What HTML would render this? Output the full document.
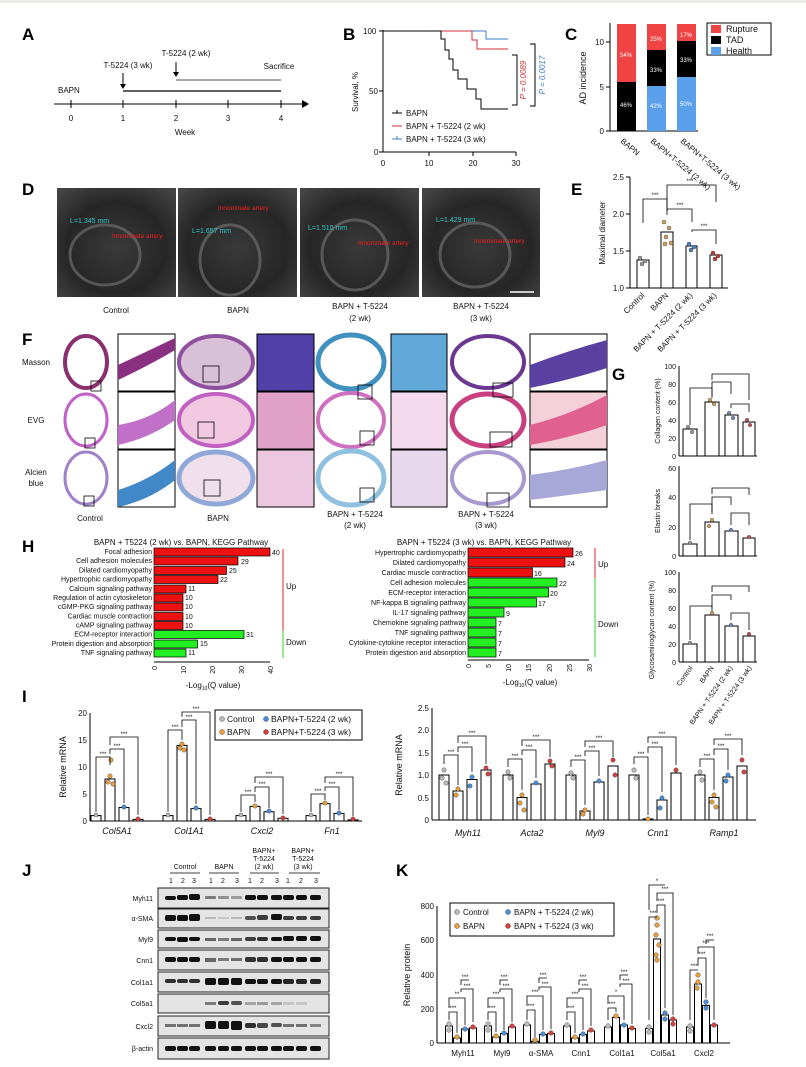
<!DOCTYPE html>
<html><head><meta charset="utf-8"><style>
body{margin:0;background:#fff}
svg{display:block;font-family:"Liberation Sans",Arial,sans-serif}
.t{font-size:8px;fill:#111}
.s{font-size:7px;fill:#111}
.L{font-size:17px;font-weight:bold;fill:#000}
.ax{stroke:#000;stroke-width:1;fill:none}
.bar{fill:#fff;stroke:#000;stroke-width:1}
</style></head><body>
<svg width="806" height="1067" viewBox="0 0 806 1067" xmlns="http://www.w3.org/2000/svg">
<rect width="806" height="1067" fill="#fff"/>
<rect width="806" height="3" fill="#ecece6"/>
<!-- Panel labels -->
<text class="L" x="22" y="40">A</text>
<text class="L" x="343" y="40">B</text>
<text class="L" x="565" y="40">C</text>
<text class="L" x="22" y="195">D</text>
<text class="L" x="571" y="195">E</text>
<text class="L" x="22" y="345">F</text>
<text class="L" x="612" y="380">G</text>
<text class="L" x="22" y="552">H</text>
<text class="L" x="22" y="702">I</text>
<text class="L" x="22" y="876">J</text>
<text class="L" x="396" y="876">K</text>

<!-- A timeline -->
<line class="ax" x1="54" y1="104" x2="302" y2="104"/>
<polygon points="302,100 309,104 302,108" fill="#000"/>
<g class="ax"><line x1="71" y1="100" x2="71" y2="108"/><line x1="123" y1="100" x2="123" y2="108"/><line x1="176" y1="100" x2="176" y2="108"/><line x1="228" y1="100" x2="228" y2="108"/><line x1="281" y1="100" x2="281" y2="108"/></g>
<g class="t" text-anchor="middle"><text x="71" y="121">0</text><text x="123" y="121">1</text><text x="176" y="121">2</text><text x="228" y="121">3</text><text x="281" y="121">4</text><text x="185" y="135">Week</text>
<text x="128" y="68">T-5224 (3 wk)</text><text x="186" y="56">T-5224 (2 wk)</text><text x="279" y="69">Sacrifice</text></g>
<text class="t" x="58" y="93">BAPN</text>
<line x1="123" y1="91" x2="281" y2="91" stroke="#000" stroke-width="1.2"/>
<line x1="176" y1="80" x2="281" y2="80" stroke="#888" stroke-width="1.5"/>
<line x1="123" y1="73" x2="123" y2="86" stroke="#000"/><polygon points="120,84 123,89 126,84"/>
<line x1="176" y1="62" x2="176" y2="74" stroke="#000"/><polygon points="173,72 176,77 179,72"/>

<!-- B survival -->
<line class="ax" x1="383" y1="30" x2="383" y2="152"/><line class="ax" x1="383" y1="152" x2="516" y2="152"/>
<g class="ax"><line x1="379" y1="31" x2="383" y2="31"/><line x1="379" y1="91" x2="383" y2="91"/><line x1="379" y1="152" x2="383" y2="152"/><line x1="429" y1="152" x2="429" y2="156"/><line x1="473" y1="152" x2="473" y2="156"/><line x1="516" y1="152" x2="516" y2="156"/></g>
<g class="t"><text x="363" y="34">100</text><text x="369" y="94">50</text><text x="374" y="155">0</text></g>
<g class="t" text-anchor="middle"><text x="383" y="166">0</text><text x="429" y="166">10</text><text x="473" y="166">20</text><text x="516" y="166">30</text></g>
<text class="t" transform="translate(358,92) rotate(-90)" text-anchor="middle">Survival, %</text>
<polyline fill="none" stroke="#3a7fd0" stroke-width="1" points="383,31 486,31 486,39 508,39"/>
<polyline fill="none" stroke="#d03030" stroke-width="1" points="440,31 472,31 472,40 477,40 477,49 508,49"/>
<polyline fill="none" stroke="#000" stroke-width="1" points="383,31 441,31 441,39 445,39 445,50 449,50 449,59 453,59 453,70 458,70 458,79 467,79 467,89 476,89 476,99 481,99 481,109 508,109"/>
<g stroke="#000"><line x1="392" y1="113" x2="402" y2="113"/><line x1="397" y1="110" x2="397" y2="113"/></g>
<g stroke="#d03030"><line x1="392" y1="126" x2="402" y2="126"/></g>
<g stroke="#3a7fd0"><line x1="392" y1="139" x2="402" y2="139"/><line x1="397" y1="136" x2="397" y2="139"/></g>
<g class="t"><text x="406" y="116">BAPN</text><text x="406" y="129">BAPN + T-5224 (2 wk)</text><text x="406" y="142">BAPN + T-5224 (3 wk)</text></g>
<polyline fill="none" stroke="#000" points="512,55 517,55 517,105 512,105"/>
<polyline fill="none" stroke="#000" points="530,44 535,44 535,106 530,106"/>
<text transform="translate(526,80) rotate(-90)" text-anchor="middle" style="font-size:8px;fill:#d03030;font-style:italic">P = 0.0089</text>
<text transform="translate(545,75) rotate(-90)" text-anchor="middle" style="font-size:8px;fill:#3a7fd0;font-style:italic">P = 0.0017</text>

<!-- C -->
<line class="ax" x1="610" y1="23" x2="610" y2="131"/><line class="ax" x1="606" y1="131" x2="698" y2="131"/>
<g class="ax"><line x1="606" y1="42" x2="610" y2="42"/><line x1="606" y1="87" x2="610" y2="87"/></g>
<g class="t" text-anchor="end"><text x="604" y="45">10</text><text x="604" y="90">5</text><text x="604" y="134">0</text></g>
<text class="t" transform="translate(586,78) rotate(-90)" text-anchor="middle" style="font-size:9px">AD incidence</text>
<rect x="617" y="24" width="19" height="58" fill="#f04444"/><rect x="617" y="82" width="19" height="49" fill="#000"/>
<rect x="647" y="24" width="19" height="26" fill="#f04444"/><rect x="647" y="50" width="19" height="36" fill="#000"/><rect x="647" y="86" width="19" height="45" fill="#5aa0ea"/>
<rect x="677" y="24" width="19" height="17" fill="#f04444"/><rect x="677" y="41" width="19" height="36" fill="#000"/><rect x="677" y="77" width="19" height="54" fill="#5aa0ea"/>
<g style="font-size:6px;fill:#fff" text-anchor="middle"><text x="626" y="57">54%</text><text x="626" y="107">46%</text><text x="656" y="41">25%</text><text x="656" y="72">33%</text><text x="656" y="108">42%</text><text x="686" y="37">17%</text><text x="686" y="62">33%</text><text x="686" y="106">50%</text></g>
<rect x="707" y="23" width="64" height="32" fill="#fff" stroke="#000"/>
<rect x="711" y="25" width="10" height="8" fill="#f04444"/><rect x="711" y="36" width="10" height="8" fill="#000"/><rect x="711" y="47" width="10" height="8" fill="#5aa0ea"/>
<g class="t" style="font-size:9px"><text x="726" y="32">Rupture</text><text x="726" y="43">TAD</text><text x="726" y="54">Health</text></g>
<g class="t"><text transform="translate(620,142) rotate(40)">BAPN</text><text transform="translate(650,142) rotate(40)">BAPN+T-5224 (2 wk)</text><text transform="translate(680,142) rotate(40)">BAPN+T-5224 (3 wk)</text></g>

<!-- D ultrasound -->
<defs>
<radialGradient id="us" cx="50%" cy="55%" r="70%"><stop offset="0" stop-color="#3a3a3a"/><stop offset="0.6" stop-color="#262626"/><stop offset="1" stop-color="#444"/></radialGradient>
</defs>
<g>
<rect x="57" y="188" width="119" height="109" fill="url(#us)"/>
<rect x="178" y="188" width="119" height="109" fill="url(#us)"/>
<rect x="300" y="188" width="119" height="109" fill="url(#us)"/>
<rect x="422" y="188" width="118" height="109" fill="url(#us)"/>
<g fill="none" stroke="#777" stroke-width="3" opacity="0.6">
<ellipse cx="105" cy="255" rx="35" ry="30"/><ellipse cx="230" cy="260" rx="30" ry="35"/><ellipse cx="355" cy="255" rx="33" ry="35"/><ellipse cx="475" cy="255" rx="35" ry="32"/></g>
<g style="font-size:7px;fill:#30c8c8"><text x="70" y="223">L=1.345 mm</text><text x="192" y="233">L=1.657 mm</text><text x="308" y="230">L=1.510 mm</text><text x="436" y="222">L=1.429 mm</text></g>
<g style="font-size:6.5px;fill:#f02020"><text x="112" y="238">Innominate artery</text><text x="218" y="210">Innominate artery</text><text x="358" y="245">Innominate artery</text><text x="474" y="243">Innominate artery</text></g>
<line x1="510" y1="292" x2="534" y2="292" stroke="#fff" stroke-width="1.5"/>
</g>
<g class="t" text-anchor="middle"><text x="116" y="313">Control</text><text x="238" y="313">BAPN</text><text x="360" y="309">BAPN + T-5224</text><text x="360" y="321">(2 wk)</text><text x="481" y="309">BAPN + T-5224</text><text x="481" y="321">(3 wk)</text></g>

<!-- E -->
<line class="ax" x1="630" y1="177" x2="630" y2="288"/><line class="ax" x1="630" y1="288" x2="728" y2="288"/>
<g class="ax"><line x1="626" y1="177" x2="630" y2="177"/><line x1="626" y1="214" x2="630" y2="214"/><line x1="626" y1="251" x2="630" y2="251"/><line x1="626" y1="288" x2="630" y2="288"/></g>
<g class="t" text-anchor="end"><text x="624" y="180">2.5</text><text x="624" y="217">2.0</text><text x="624" y="254">1.5</text><text x="624" y="291">1.0</text></g>
<text class="t" transform="translate(605,233) rotate(-90)" text-anchor="middle">Maximal diameter</text>
<rect class="bar" x="637" y="260" width="12" height="28"/><rect class="bar" x="661" y="232" width="12" height="56"/><rect class="bar" x="686" y="246" width="11" height="42"/><rect class="bar" x="710" y="255" width="12" height="33"/>
<g fill="#999" stroke="#333" stroke-width=".4"><circle cx="640" cy="258" r="2"/><circle cx="645" cy="261" r="2"/><circle cx="642" cy="264" r="2"/></g>
<g fill="#d8a060" stroke="#333" stroke-width=".4"><circle cx="664" cy="222" r="2"/><circle cx="669" cy="228" r="2"/><circle cx="666" cy="237" r="2"/><circle cx="671" cy="243" r="2"/><circle cx="665" cy="244" r="2"/></g>
<g fill="#4a80c8" stroke="#333" stroke-width=".4"><circle cx="689" cy="244" r="2"/><circle cx="694" cy="247" r="2"/><circle cx="691" cy="250" r="2"/></g>
<g fill="#c04040" stroke="#333" stroke-width=".4"><circle cx="713" cy="253" r="2"/><circle cx="718" cy="256" r="2"/><circle cx="715" cy="259" r="2"/></g>
<g fill="none" stroke="#000" stroke-width=".8"><polyline points="643,223 643,199 667,199 667,211"/><polyline points="667,211 667,185 716,185 716,202"/><polyline points="667,215 667,209 692,209 692,222"/><polyline points="692,232 692,230 716,230 716,244"/></g>
<g class="s" text-anchor="middle" style="font-size:6px"><text x="655" y="197">***</text><text x="690" y="183">***</text><text x="680" y="207">***</text><text x="704" y="228">***</text></g>
<g class="t" text-anchor="end"><text transform="translate(645,296) rotate(-45)">Control</text><text transform="translate(669,296) rotate(-45)">BAPN</text><text transform="translate(693,296) rotate(-45)">BAPN + T-5224 (2 wk)</text><text transform="translate(717,296) rotate(-45)">BAPN + T-5224 (3 wk)</text></g>

<!-- F histology -->
<g>
<!-- row1 Masson -->
<ellipse cx="86" cy="362" rx="21" ry="26" fill="#fff" stroke="#8a3070" stroke-width="4"/>
<rect x="118" y="334" width="57" height="57" fill="#fff" stroke="#000"/><path d="M118,365 Q150,350 175,338 L175,350 Q150,365 118,380Z" fill="#8a3080"/>
<ellipse cx="216" cy="362" rx="37" ry="26" fill="#d8c0d8" stroke="#9050a0" stroke-width="4"/>
<rect x="257" y="334" width="57" height="57" fill="#5040a8" stroke="#000"/>
<ellipse cx="351" cy="362" rx="33" ry="27" fill="#fff" stroke="#4090c0" stroke-width="5"/>
<rect x="391" y="334" width="56" height="57" fill="#60a8d8" stroke="#000"/>
<ellipse cx="488" cy="362" rx="36" ry="26" fill="#fff" stroke="#6a3890" stroke-width="4"/>
<rect x="530" y="334" width="77" height="57" fill="#fff" stroke="#000"/><path d="M530,365 Q570,350 607,340 L607,368 Q570,380 530,388Z" fill="#5a40a0"/>
<!-- row2 EVG -->
<ellipse cx="86" cy="420" rx="21" ry="26" fill="#fff" stroke="#c060c8" stroke-width="3"/>
<rect x="118" y="392" width="57" height="57" fill="#fff" stroke="#000"/><path d="M118,425 Q150,420 175,400 L175,420 Q150,438 118,445Z" fill="#c070c8"/>
<ellipse cx="216" cy="420" rx="37" ry="26" fill="#f0c8e0" stroke="#c060c0" stroke-width="4"/>
<rect x="257" y="392" width="57" height="57" fill="#e0a0c8" stroke="#000"/>
<ellipse cx="351" cy="420" rx="33" ry="27" fill="#fff" stroke="#d070c0" stroke-width="4"/>
<rect x="391" y="392" width="56" height="57" fill="#f4d8ec" stroke="#000"/>
<ellipse cx="488" cy="420" rx="36" ry="26" fill="#fff" stroke="#c84080" stroke-width="5"/>
<rect x="530" y="392" width="77" height="57" fill="#f4d0d8" stroke="#000"/><path d="M530,425 Q570,415 607,395 L607,425 Q570,438 530,445Z" fill="#e06090"/>
<!-- row3 Alcian -->
<ellipse cx="86" cy="478" rx="21" ry="26" fill="#fff" stroke="#a080c8" stroke-width="3"/>
<rect x="118" y="450" width="57" height="57" fill="#fff" stroke="#000"/><path d="M118,490 Q150,480 175,460 L175,480 Q150,500 118,507Z" fill="#4088c8"/>
<ellipse cx="216" cy="478" rx="37" ry="26" fill="#f0e0ec" stroke="#90a8d8" stroke-width="5"/>
<rect x="257" y="450" width="57" height="57" fill="#ecc8e0" stroke="#000"/>
<ellipse cx="351" cy="478" rx="33" ry="27" fill="#fff" stroke="#90c0e0" stroke-width="5"/>
<rect x="391" y="450" width="56" height="57" fill="#e8d8ec" stroke="#000"/>
<ellipse cx="488" cy="478" rx="36" ry="26" fill="#fff" stroke="#a898d0" stroke-width="4"/>
<rect x="530" y="450" width="77" height="57" fill="#fff" stroke="#000"/><path d="M530,475 Q570,470 607,460 L607,490 Q570,495 530,500Z" fill="#a8a8d8"/>
<g fill="none" stroke="#000" stroke-width=".8">
<rect x="91" y="381" width="10" height="10"/><rect x="203" y="366" width="16" height="16"/><rect x="358" y="385" width="14" height="14"/><rect x="493" y="383" width="20" height="14"/>
<rect x="85" y="438" width="10" height="10"/><rect x="198" y="422" width="16" height="16"/><rect x="360" y="431" width="14" height="14"/><rect x="490" y="432" width="22" height="15"/>
<rect x="84" y="496" width="10" height="10"/><rect x="204" y="480" width="16" height="16"/><rect x="360" y="488" width="14" height="14"/><rect x="487" y="493" width="22" height="14"/></g>
</g>
<g class="t" text-anchor="middle"><text x="36" y="365">Masson</text><text x="36" y="423">EVG</text><text x="36" y="475">Alcien</text><text x="36" y="486">blue</text>
<text x="90" y="521">Control</text><text x="218" y="521">BAPN</text><text x="355" y="517">BAPN + T-5224</text><text x="355" y="528">(2 wk)</text><text x="486" y="517">BAPN + T-5224</text><text x="486" y="528">(3 wk)</text></g>

<!-- G collagen -->
<line class="ax" x1="679" y1="366" x2="679" y2="456"/><line class="ax" x1="679" y1="456" x2="757" y2="456"/>
<g class="t" text-anchor="end" style="font-size:7px"><text x="676" y="369">100</text><text x="676" y="387">80</text><text x="676" y="405">60</text><text x="676" y="423">40</text><text x="676" y="441">20</text><text x="676" y="459">0</text></g>
<text class="s" transform="translate(660,411) rotate(-90)" text-anchor="middle">Collagen content (%)</text>
<rect class="bar" x="683" y="429" width="14" height="27"/><rect class="bar" x="705" y="402" width="14" height="54"/><rect class="bar" x="725" y="415" width="13" height="41"/><rect class="bar" x="743" y="422" width="12" height="34"/>
<!-- elastin -->
<line class="ax" x1="679" y1="466" x2="679" y2="556"/><line class="ax" x1="679" y1="556" x2="757" y2="556"/>
<g class="t" text-anchor="end" style="font-size:7px"><text x="676" y="471">60</text><text x="676" y="500">40</text><text x="676" y="530">20</text><text x="676" y="559">0</text></g>
<text class="s" transform="translate(660,511) rotate(-90)" text-anchor="middle">Elastin breaks</text>
<rect class="bar" x="683" y="544" width="14" height="12"/><rect class="bar" x="705" y="522" width="14" height="34"/><rect class="bar" x="725" y="531" width="13" height="25"/><rect class="bar" x="743" y="538" width="12" height="18"/>
<!-- GAG -->
<line class="ax" x1="679" y1="572" x2="679" y2="662"/><line class="ax" x1="679" y1="662" x2="757" y2="662"/>
<g class="t" text-anchor="end" style="font-size:7px"><text x="676" y="575">100</text><text x="676" y="593">80</text><text x="676" y="611">60</text><text x="676" y="629">40</text><text x="676" y="647">20</text><text x="676" y="665">0</text></g>
<text class="s" transform="translate(654,630) rotate(-90)" text-anchor="middle">Glycosaminoglycan content (%)</text>
<rect class="bar" x="683" y="644" width="14" height="18"/><rect class="bar" x="705" y="615" width="14" height="47"/><rect class="bar" x="725" y="626" width="13" height="36"/><rect class="bar" x="743" y="636" width="12" height="26"/>
<g fill="none" stroke="#000" stroke-width=".8">
<polyline points="690,425 690,388 712,388 712,398"/><polyline points="712,396 712,382 731,382 731,394"/><polyline points="712,380 712,374 749,374 749,400"/><polyline points="731,408 731,404 749,404 749,412"/>
<polyline points="690,540 690,504 712,504 712,514"/><polyline points="712,512 712,497 731,497 731,505"/><polyline points="712,494 712,488 749,488 749,495"/><polyline points="731,525 731,513 749,513 749,525"/>
<polyline points="690,640 690,606 712,606 712,612"/><polyline points="712,608 712,595 731,595 731,600"/><polyline points="712,592 712,586 749,586 749,592"/><polyline points="731,620 731,613 749,613 749,630"/></g>
<g fill="#d8a060" stroke="#333" stroke-width=".4"><circle cx="710" cy="400" r="1.8"/><circle cx="714" cy="404" r="1.8"/><circle cx="712" cy="520" r="1.8"/><circle cx="709" cy="526" r="1.8"/><circle cx="712" cy="613" r="1.8"/></g>
<g fill="#6a90c0" stroke="#333" stroke-width=".4"><circle cx="729" cy="413" r="1.8"/><circle cx="733" cy="418" r="1.8"/><circle cx="731" cy="530" r="1.8"/><circle cx="731" cy="625" r="1.8"/></g>
<g fill="#c05050" stroke="#333" stroke-width=".4"><circle cx="747" cy="420" r="1.8"/><circle cx="750" cy="425" r="1.8"/><circle cx="749" cy="537" r="1.8"/><circle cx="749" cy="634" r="1.8"/></g>
<g fill="#999" stroke="#333" stroke-width=".4"><circle cx="688" cy="427" r="1.8"/><circle cx="692" cy="432" r="1.8"/><circle cx="690" cy="543" r="1.8"/><circle cx="690" cy="643" r="1.8"/></g>
<g class="s" text-anchor="end"><text transform="translate(693,668) rotate(-55)">Control</text><text transform="translate(714,668) rotate(-55)">BAPN</text><text transform="translate(733,668) rotate(-55)">BAPN + T-5224 (2 wk)</text><text transform="translate(752,668) rotate(-55)">BAPN + T-5224 (3 wk)</text></g>

<!-- H left -->
<text class="t" x="181" y="545" text-anchor="middle">BAPN + T5224 (2 wk) vs. BAPN, KEGG Pathway</text>
<g stroke="#000" stroke-width=".7">
<rect x="154" y="548" width="116" height="8" fill="#ee1111"/><rect x="154" y="557" width="84" height="8" fill="#ee1111"/><rect x="154" y="566.5" width="72.5" height="8" fill="#ee1111"/><rect x="154" y="575.5" width="64" height="8" fill="#ee1111"/><rect x="154" y="585" width="32" height="8" fill="#ee1111"/><rect x="154" y="594" width="29" height="8" fill="#ee1111"/><rect x="154" y="603" width="29" height="8" fill="#ee1111"/><rect x="154" y="612.5" width="29" height="8" fill="#ee1111"/><rect x="154" y="621.5" width="29" height="8" fill="#ee1111"/>
<rect x="154" y="630.5" width="90" height="8" fill="#22ee22"/><rect x="154" y="640" width="43.5" height="8" fill="#22ee22"/><rect x="154" y="649" width="32" height="8" fill="#22ee22"/></g>
<g class="s" text-anchor="end"><text x="152" y="554">Focal adhesion</text><text x="152" y="563">Cell adhesion molecules</text><text x="152" y="572.5">Dilated cardiomyopathy</text><text x="152" y="581.5">Hypertrophic cardiomyopathy</text><text x="152" y="591">Calcium signaling pathway</text><text x="152" y="600">Regulation of actin cytoskeleton</text><text x="152" y="609">cGMP-PKG signaling pathway</text><text x="152" y="618.5">Cardiac muscle contraction</text><text x="152" y="627.5">cAMP signaling pathway</text><text x="152" y="636.5">ECM-receptor interaction</text><text x="152" y="646">Protein digestion and absorption</text><text x="152" y="655">TNF signaling pathway</text></g>
<g class="s"><text x="272" y="555">40</text><text x="241" y="564">29</text><text x="229" y="573">25</text><text x="220" y="582">22</text><text x="188" y="591">11</text><text x="185" y="600">10</text><text x="185" y="609">10</text><text x="185" y="619">10</text><text x="185" y="628">10</text><text x="246" y="637">31</text><text x="200" y="646">15</text><text x="188" y="655">11</text></g>
<line x1="283" y1="549" x2="283" y2="631" stroke="#e02020"/><line x1="283" y1="631" x2="283" y2="658" stroke="#30d030"/>
<g class="t"><text x="286" y="589">Up</text><text x="286" y="645">Down</text></g>
<line class="ax" x1="154" y1="662" x2="270" y2="662"/>
<g class="s" text-anchor="end"><text transform="translate(157,666) rotate(-90)">0</text><text transform="translate(186,666) rotate(-90)">10</text><text transform="translate(215,666) rotate(-90)">20</text><text transform="translate(244,666) rotate(-90)">30</text><text transform="translate(273,666) rotate(-90)">40</text></g>
<text class="t" x="213" y="688" text-anchor="middle">-Log<tspan style="font-size:5px" dy="2">10</tspan><tspan dy="-2">(Q value)</tspan></text>
<!-- H right -->
<text class="t" x="484" y="545" text-anchor="middle">BAPN + T5224 (3 wk) vs. BAPN, KEGG Pathway</text>
<g stroke="#000" stroke-width=".7">
<rect x="468" y="548" width="105" height="9" fill="#ee1111"/><rect x="468" y="558" width="97" height="9" fill="#ee1111"/><rect x="468" y="568" width="64.5" height="9" fill="#ee1111"/>
<rect x="468" y="578" width="89" height="9" fill="#22ee22"/><rect x="468" y="588" width="80.6" height="9" fill="#22ee22"/><rect x="468" y="598" width="68.5" height="9" fill="#22ee22"/><rect x="468" y="608" width="36" height="9" fill="#22ee22"/><rect x="468" y="618" width="28" height="9" fill="#22ee22"/><rect x="468" y="628" width="28" height="9" fill="#22ee22"/><rect x="468" y="638" width="28" height="9" fill="#22ee22"/><rect x="468" y="648" width="28" height="9" fill="#22ee22"/></g>
<g class="s" text-anchor="end"><text x="466" y="555">Hypertrophic cardiomyopathy</text><text x="466" y="565">Dilated cardiomyopathy</text><text x="466" y="575">Cardiac muscle contraction</text><text x="466" y="585">Cell adhesion molecules</text><text x="466" y="595">ECM-receptor interaction</text><text x="466" y="605">NF-kappa B signaling pathway</text><text x="466" y="615">IL-17 signaling pathway</text><text x="466" y="625">Chemokine signaling pathway</text><text x="466" y="635">TNF signaling pathway</text><text x="466" y="645">Cytokine-cytokine receptor interaction</text><text x="466" y="655">Protein digestion and absorption</text></g>
<g class="s"><text x="575" y="556">26</text><text x="567" y="566">24</text><text x="534" y="576">16</text><text x="559" y="586">22</text><text x="550" y="596">20</text><text x="538" y="606">17</text><text x="506" y="616">9</text><text x="498" y="626">7</text><text x="498" y="636">7</text><text x="498" y="646">7</text><text x="498" y="656">7</text></g>
<line x1="595" y1="548" x2="595" y2="578" stroke="#e02020"/><line x1="595" y1="578" x2="595" y2="657" stroke="#30d030"/>
<g class="t"><text x="598" y="567">Up</text><text x="598" y="627">Down</text></g>
<line class="ax" x1="468" y1="660" x2="589" y2="660"/>
<g class="s" text-anchor="end"><text transform="translate(471,664) rotate(-90)">0</text><text transform="translate(491,664) rotate(-90)">5</text><text transform="translate(511,664) rotate(-90)">10</text><text transform="translate(531,664) rotate(-90)">15</text><text transform="translate(552,664) rotate(-90)">20</text><text transform="translate(572,664) rotate(-90)">25</text><text transform="translate(592,664) rotate(-90)">30</text></g>
<text class="t" x="530" y="685" text-anchor="middle">-Log<tspan style="font-size:5px" dy="2">10</tspan><tspan dy="-2">(Q value)</tspan></text>

<!-- I left -->
<line class="ax" x1="90" y1="713" x2="90" y2="821"/><line class="ax" x1="90" y1="821" x2="362" y2="821"/>
<g class="t" text-anchor="end"><text x="87" y="716">20</text><text x="87" y="743">15</text><text x="87" y="770">10</text><text x="87" y="797">5</text><text x="87" y="824">0</text></g>
<text class="t" transform="translate(66,767) rotate(-90)" text-anchor="middle" style="font-size:9px">Relative mRNA</text>
<g class="bar">
<rect x="91" y="815.6" width="10" height="5.4"/><rect x="105" y="779" width="10" height="42"/><rect x="119" y="807.5" width="10" height="13.5"/><rect x="133" y="819.4" width="10" height="1.6"/>
<rect x="163" y="815.6" width="10" height="5.4"/><rect x="177" y="745.4" width="10" height="75.6"/><rect x="191" y="808.6" width="10" height="12.4"/><rect x="205" y="819.4" width="10" height="1.6"/>
<rect x="236" y="815.6" width="10" height="5.4"/><rect x="250" y="806.4" width="10" height="14.6"/><rect x="264" y="811.8" width="10" height="9.2"/><rect x="278" y="818.3" width="10" height="2.7"/>
<rect x="306" y="815.6" width="10" height="5.4"/><rect x="320" y="803.7" width="10" height="17.3"/><rect x="334" y="813.4" width="10" height="7.6"/><rect x="348" y="819.9" width="10" height="1.1"/></g>
<g stroke="#333" stroke-width=".4">
<g fill="#bbb"><circle cx="96" cy="815" r="2"/><circle cx="168" cy="815" r="2"/><circle cx="241" cy="815" r="2"/><circle cx="311" cy="815" r="2"/></g>
<g fill="#e8a040"><circle cx="110" cy="776" r="2.2"/><circle cx="108" cy="782" r="2.2"/><circle cx="113" cy="784" r="2.2"/><circle cx="111" cy="760" r="2.2"/><circle cx="182" cy="744" r="2.2"/><circle cx="180" cy="748" r="2.2"/><circle cx="184" cy="750" r="2.2"/><circle cx="255" cy="806" r="2.2"/><circle cx="325" cy="803" r="2.2"/></g>
<g fill="#4a8ed8"><circle cx="124" cy="807" r="2.2"/><circle cx="196" cy="808" r="2.2"/><circle cx="269" cy="811" r="2.2"/><circle cx="339" cy="813" r="2.2"/></g>
<g fill="#d84040"><circle cx="138" cy="819" r="2.2"/><circle cx="210" cy="819" r="2.2"/><circle cx="283" cy="818" r="2.2"/><circle cx="353" cy="819" r="2.2"/></g></g>
<g fill="none" stroke="#000" stroke-width=".8">
<polyline points="96,812 96,757 110,757 110,765"/><polyline points="110,754 110,749 124,749 124,803"/><polyline points="110,745 110,737 138,737 138,815"/>
<polyline points="168,812 168,730 182,730 182,740"/><polyline points="182,727 182,720 196,720 196,804"/><polyline points="182,717 182,712 210,712 210,815"/>
<polyline points="241,812 241,795 255,795 255,802"/><polyline points="255,792 255,787 269,787 269,808"/><polyline points="255,783 255,777 283,777 283,814"/>
<polyline points="311,812 311,794 325,794 325,800"/><polyline points="325,791 325,787 339,787 339,810"/><polyline points="325,783 325,777 353,777 353,816"/></g>
<g class="s" text-anchor="middle" style="font-size:6px"><text x="103" y="756">***</text><text x="117" y="748">***</text><text x="124" y="736">***</text><text x="175" y="729">***</text><text x="189" y="719">***</text><text x="196" y="711">***</text><text x="248" y="794">***</text><text x="262" y="786">***</text><text x="269" y="776">***</text><text x="318" y="793">***</text><text x="332" y="786">***</text><text x="339" y="776">***</text></g>
<g class="t" text-anchor="middle" style="font-style:italic;font-size:9px"><text x="117" y="834">Col5A1</text><text x="189" y="834">Col1A1</text><text x="262" y="834">Cxcl2</text><text x="332" y="834">Fn1</text></g>
<rect x="215" y="710" width="147" height="30" fill="#fff" stroke="#000"/>
<g stroke="#333" stroke-width=".4"><circle cx="222" cy="719" r="2.5" fill="#bbb"/><circle cx="222" cy="732" r="2.5" fill="#e8a040"/><circle cx="266" cy="719" r="2.5" fill="#4a8ed8"/><circle cx="266" cy="732" r="2.5" fill="#d84040"/></g>
<g class="t" style="font-size:8.5px"><text x="227" y="722">Control</text><text x="227" y="735">BAPN</text><text x="271" y="722">BAPN+T-5224 (2 wk)</text><text x="271" y="735">BAPN+T-5224 (3 wk)</text></g>

<!-- I right -->
<line class="ax" x1="432" y1="708" x2="432" y2="820"/><line class="ax" x1="432" y1="820" x2="756" y2="820"/>
<g class="t" text-anchor="end"><text x="429" y="711">2.5</text><text x="429" y="733">2.0</text><text x="429" y="756">1.5</text><text x="429" y="778">1.0</text><text x="429" y="801">0.5</text><text x="429" y="823">0</text></g>
<text class="t" transform="translate(402,765) rotate(-90)" text-anchor="middle" style="font-size:9px">Relative mRNA</text>
<g class="bar">
<rect x="439" y="775" width="10" height="45"/><rect x="453" y="791" width="10" height="29"/><rect x="467" y="779.5" width="10" height="40.5"/><rect x="481" y="770" width="10" height="50"/>
<rect x="503" y="775" width="10" height="45"/><rect x="517" y="797.5" width="10" height="22.5"/><rect x="531" y="784" width="10" height="36"/><rect x="545" y="764" width="10" height="56"/>
<rect x="566" y="775" width="10" height="45"/><rect x="580" y="811" width="10" height="9"/><rect x="594" y="782" width="10" height="38"/><rect x="608" y="766" width="10" height="54"/>
<rect x="629" y="775" width="10" height="45"/><rect x="643" y="819" width="10" height="1"/><rect x="657" y="800" width="10" height="20"/><rect x="671" y="773" width="10" height="47"/>
<rect x="695" y="775" width="10" height="45"/><rect x="709" y="797.5" width="10" height="22.5"/><rect x="723" y="777" width="10" height="43"/><rect x="737" y="766" width="10" height="54"/></g>
<g stroke="#333" stroke-width=".4">
<g fill="#bbb"><circle cx="444" cy="770" r="2.2"/><circle cx="442" cy="778" r="2.2"/><circle cx="446" cy="783" r="2.2"/><circle cx="508" cy="772" r="2.2"/><circle cx="510" cy="778" r="2.2"/><circle cx="571" cy="773" r="2.2"/><circle cx="573" cy="778" r="2.2"/><circle cx="634" cy="770" r="2.2"/><circle cx="636" cy="778" r="2.2"/><circle cx="700" cy="772" r="2.2"/><circle cx="702" cy="780" r="2.2"/></g>
<g fill="#e8a040"><circle cx="458" cy="789" r="2.2"/><circle cx="456" cy="795" r="2.2"/><circle cx="522" cy="795" r="2.2"/><circle cx="520" cy="803" r="2.2"/><circle cx="524" cy="810" r="2.2"/><circle cx="585" cy="810" r="2.2"/><circle cx="583" cy="814" r="2.2"/><circle cx="648" cy="819" r="2.2"/><circle cx="714" cy="795" r="2.2"/><circle cx="712" cy="802" r="2.2"/><circle cx="716" cy="807" r="2.2"/></g>
<g fill="#4a8ed8"><circle cx="472" cy="777" r="2.2"/><circle cx="470" cy="786" r="2.2"/><circle cx="536" cy="783" r="2.2"/><circle cx="599" cy="781" r="2.2"/><circle cx="662" cy="798" r="2.2"/><circle cx="660" cy="808" r="2.2"/><circle cx="728" cy="775" r="2.2"/><circle cx="726" cy="781" r="2.2"/></g>
<g fill="#d84040"><circle cx="486" cy="768" r="2.2"/><circle cx="488" cy="774" r="2.2"/><circle cx="550" cy="761" r="2.2"/><circle cx="552" cy="766" r="2.2"/><circle cx="613" cy="760" r="2.2"/><circle cx="615" cy="775" r="2.2"/><circle cx="676" cy="770" r="2.2"/><circle cx="742" cy="760" r="2.2"/><circle cx="744" cy="772" r="2.2"/></g></g>
<g fill="none" stroke="#000" stroke-width=".8">
<polyline points="444,764 444,755 458,755 458,785"/><polyline points="458,752 458,747 472,747 472,772"/><polyline points="458,743 458,736 486,736 486,764"/>
<polyline points="508,767 508,759 522,759 522,790"/><polyline points="522,755 522,750 536,750 536,778"/><polyline points="522,746 522,740 550,740 550,757"/>
<polyline points="571,767 571,760 585,760 585,805"/><polyline points="585,756 585,751 599,751 599,776"/><polyline points="585,747 585,741 613,741 613,757"/>
<polyline points="634,764 634,757 648,757 648,815"/><polyline points="648,753 648,747 662,747 662,792"/><polyline points="648,743 648,737 676,737 676,765"/>
<polyline points="700,767 700,759 714,759 714,790"/><polyline points="714,755 714,749 728,749 728,770"/><polyline points="714,745 714,739 742,739 742,755"/></g>
<g class="s" text-anchor="middle" style="font-size:6px"><text x="451" y="754">***</text><text x="465" y="746">***</text><text x="472" y="735">***</text><text x="515" y="758">***</text><text x="529" y="749">***</text><text x="536" y="739">***</text><text x="578" y="759">***</text><text x="592" y="750">***</text><text x="599" y="740">***</text><text x="641" y="756">***</text><text x="655" y="746">***</text><text x="662" y="736">***</text><text x="707" y="758">***</text><text x="721" y="748">***</text><text x="728" y="738">***</text></g>
<g class="t" text-anchor="middle" style="font-style:italic;font-size:9px"><text x="468" y="836">Myh11</text><text x="532" y="836">Acta2</text><text x="595" y="836">Myl9</text><text x="658" y="836">Cnn1</text><text x="724" y="836">Ramp1</text></g>

<!-- J western blot -->
<g class="s" text-anchor="middle"><text x="264" y="853">BAPN+</text><text x="264" y="861">T-5224</text><text x="264" y="869">(2 wk)</text><text x="303" y="853">BAPN+</text><text x="303" y="861">T-5224</text><text x="303" y="869">(3 wk)</text><text x="185" y="869">Control</text><text x="224" y="869">BAPN</text></g>
<g stroke="#000" stroke-width=".8"><line x1="170" y1="873" x2="200" y2="873"/><line x1="209" y1="873" x2="239" y2="873"/><line x1="250" y1="873" x2="279" y2="873"/><line x1="289" y1="873" x2="320" y2="873"/></g>
<g class="s" text-anchor="middle"><text x="171" y="883">1</text><text x="183" y="883">2</text><text x="194" y="883">3</text><text x="211" y="883">1</text><text x="223" y="883">2</text><text x="237" y="883">3</text><text x="250" y="883">1</text><text x="262" y="883">2</text><text x="277" y="883">3</text><text x="288" y="883">1</text><text x="301" y="883">2</text><text x="316" y="883">3</text></g>
<g fill="#e4e4e4" stroke="#222" stroke-width="1">
<rect x="158" y="888" width="171" height="20"/><rect x="158" y="909" width="171" height="19"/><rect x="158" y="930" width="171" height="18"/><rect x="158" y="950" width="171" height="20"/><rect x="158" y="972" width="171" height="20"/><rect x="158" y="994" width="171" height="19"/><rect x="158" y="1016" width="171" height="20"/><rect x="158" y="1038" width="171" height="21"/></g>
<g fill="#111">
<!-- Myh11 -->
<rect x="165" y="896" width="11" height="4" rx="2"/><rect x="177" y="895" width="11" height="5" rx="2"/><rect x="189" y="894" width="11" height="6" rx="2"/><rect x="205" y="896" width="11" height="3" rx="1" opacity=".5"/><rect x="218" y="896" width="11" height="3" rx="1" opacity=".4"/><rect x="231" y="896" width="11" height="3" rx="1" opacity=".35"/><rect x="245" y="895" width="11" height="5" rx="2"/><rect x="257" y="895" width="11" height="5" rx="2"/><rect x="271" y="895" width="11" height="5" rx="2"/><rect x="283" y="895" width="11" height="5" rx="2"/><rect x="296" y="895" width="11" height="5" rx="2"/><rect x="310" y="895" width="11" height="5" rx="2"/>
<!-- SMA -->
<rect x="165" y="915" width="11" height="6" rx="2"/><rect x="177" y="915" width="11" height="6" rx="2"/><rect x="189" y="914" width="11" height="7" rx="2"/><rect x="205" y="917" width="11" height="2" opacity=".2"/><rect x="218" y="917" width="11" height="2" opacity=".15"/><rect x="231" y="917" width="11" height="2" opacity=".2"/><rect x="245" y="916" width="11" height="4" rx="2" opacity=".7"/><rect x="257" y="915" width="11" height="5" rx="2" opacity=".8"/><rect x="271" y="914" width="11" height="6" rx="2"/><rect x="283" y="916" width="11" height="4" rx="2" opacity=".8"/><rect x="296" y="916" width="11" height="4" rx="2" opacity=".8"/><rect x="310" y="916" width="11" height="4" rx="2" opacity=".8"/>
<!-- Myl9 -->
<rect x="165" y="937" width="11" height="4" rx="2"/><rect x="177" y="937" width="11" height="5" rx="2"/><rect x="189" y="937" width="11" height="4" rx="2"/><rect x="205" y="938" width="11" height="3" opacity=".6"/><rect x="218" y="938" width="11" height="3" opacity=".5"/><rect x="231" y="938" width="11" height="3" opacity=".6"/><rect x="245" y="937" width="11" height="4" rx="2" opacity=".8"/><rect x="257" y="937" width="11" height="4" rx="2" opacity=".85"/><rect x="271" y="937" width="11" height="4" rx="2"/><rect x="283" y="936" width="11" height="5" rx="2"/><rect x="296" y="936" width="11" height="5" rx="2"/><rect x="310" y="936" width="11" height="5" rx="2"/>
<!-- Cnn1 -->
<rect x="165" y="957" width="11" height="5" rx="2"/><rect x="177" y="957" width="11" height="5" rx="2"/><rect x="189" y="957" width="11" height="5" rx="2"/><rect x="205" y="958" width="11" height="4" opacity=".6"/><rect x="218" y="958" width="11" height="3" opacity=".5"/><rect x="231" y="958" width="11" height="3" opacity=".55"/><rect x="245" y="957" width="11" height="5" rx="2" opacity=".85"/><rect x="257" y="957" width="11" height="5" rx="2" opacity=".85"/><rect x="271" y="957" width="11" height="5" rx="2"/><rect x="283" y="957" width="11" height="5" rx="2"/><rect x="296" y="957" width="11" height="5" rx="2"/><rect x="310" y="957" width="11" height="5" rx="2"/>
<!-- Col1a1 -->
<rect x="165" y="979" width="11" height="4" rx="2" opacity=".85"/><rect x="177" y="979" width="11" height="4" rx="2" opacity=".85"/><rect x="189" y="979" width="11" height="4" rx="2" opacity=".85"/><rect x="205" y="978" width="11" height="7" rx="2"/><rect x="218" y="978" width="11" height="7" rx="2"/><rect x="231" y="978" width="11" height="7" rx="2"/><rect x="245" y="979" width="11" height="5" rx="2"/><rect x="257" y="979" width="11" height="5" rx="2"/><rect x="271" y="979" width="11" height="5" rx="2"/><rect x="283" y="979" width="11" height="5" rx="2" opacity=".9"/><rect x="296" y="979" width="11" height="5" rx="2" opacity=".9"/><rect x="310" y="979" width="11" height="5" rx="2" opacity=".9"/>
<!-- Col5a1 -->
<rect x="205" y="1002" width="11" height="3" opacity=".5"/><rect x="218" y="1001" width="11" height="4" rx="2" opacity=".8"/><rect x="231" y="1001" width="11" height="4" rx="2" opacity=".7"/><rect x="245" y="1002" width="11" height="3" opacity=".3"/><rect x="257" y="1002" width="11" height="3" opacity=".35"/><rect x="271" y="1002" width="11" height="3" opacity=".3"/><rect x="283" y="1002" width="11" height="3" opacity=".15"/><rect x="296" y="1002" width="11" height="3" opacity=".15"/>
<!-- Cxcl2 -->
<rect x="165" y="1024" width="11" height="3" opacity=".55"/><rect x="177" y="1024" width="11" height="3" opacity=".55"/><rect x="189" y="1024" width="11" height="3" opacity=".55"/><rect x="205" y="1021" width="11" height="8" rx="2"/><rect x="218" y="1021" width="11" height="8" rx="2"/><rect x="231" y="1021" width="11" height="9" rx="2"/><rect x="245" y="1023" width="11" height="5" rx="2" opacity=".85"/><rect x="257" y="1023" width="11" height="5" rx="2" opacity=".75"/><rect x="271" y="1023" width="11" height="4" rx="2" opacity=".7"/><rect x="283" y="1024" width="11" height="3" opacity=".55"/><rect x="296" y="1024" width="11" height="3" opacity=".55"/><rect x="310" y="1024" width="11" height="3" opacity=".45"/>
<!-- actin -->
<rect x="165" y="1046" width="11" height="5" rx="2"/><rect x="177" y="1046" width="11" height="5" rx="2"/><rect x="189" y="1046" width="11" height="5" rx="2"/><rect x="205" y="1046" width="11" height="5" rx="2"/><rect x="218" y="1046" width="11" height="5" rx="2"/><rect x="231" y="1046" width="11" height="5" rx="2"/><rect x="245" y="1046" width="11" height="5" rx="2"/><rect x="257" y="1046" width="11" height="5" rx="2"/><rect x="271" y="1046" width="11" height="5" rx="2"/><rect x="283" y="1046" width="11" height="5" rx="2"/><rect x="296" y="1046" width="11" height="5" rx="2"/><rect x="310" y="1046" width="11" height="5" rx="2"/>
</g>
<g class="s" text-anchor="end"><text x="153" y="901">Myh11</text><text x="153" y="921">α-SMA</text><text x="153" y="942">Myl9</text><text x="153" y="963">Cnn1</text><text x="153" y="985">Col1a1</text><text x="153" y="1006">Col5a1</text><text x="153" y="1029">Cxcl2</text><text x="153" y="1051">β-actin</text></g>

<!-- K -->
<line class="ax" x1="437" y1="906" x2="437" y2="1043"/><line class="ax" x1="437" y1="1043" x2="730" y2="1043"/>
<g class="t" text-anchor="end"><text x="434" y="909">800</text><text x="434" y="943">600</text><text x="434" y="978">400</text><text x="434" y="1012">200</text><text x="434" y="1046">0</text></g>
<text class="t" transform="translate(410,975) rotate(-90)" text-anchor="middle" style="font-size:9px">Relative protein</text>
<g class="bar" stroke-width=".8">
<rect x="445.5" y="1026" width="7" height="17"/><rect x="453.5" y="1038" width="7" height="5"/><rect x="461.5" y="1029" width="7" height="14"/><rect x="469.5" y="1028" width="7" height="15"/>
<rect x="484.5" y="1026" width="7" height="17"/><rect x="492.5" y="1037" width="7" height="6"/><rect x="500.5" y="1033.6" width="7" height="9.4"/><rect x="508.5" y="1027" width="7" height="16"/>
<rect x="523.5" y="1025" width="7" height="18"/><rect x="531.5" y="1041.3" width="7" height="1.7"/><rect x="539.5" y="1034.5" width="7" height="8.5"/><rect x="547.5" y="1033.6" width="7" height="9.4"/>
<rect x="563.5" y="1026" width="7" height="17"/><rect x="571.5" y="1038" width="7" height="5"/><rect x="579.5" y="1034.5" width="7" height="8.5"/><rect x="587.5" y="1031" width="7" height="12"/>
<rect x="604.5" y="1027" width="7" height="16"/><rect x="612.5" y="1017.4" width="7" height="25.6"/><rect x="620.5" y="1025" width="7" height="18"/><rect x="628.5" y="1028.5" width="7" height="14.5"/>
<rect x="645.5" y="1028.5" width="7" height="14.5"/><rect x="653.5" y="939" width="7" height="104"/><rect x="661.5" y="1015" width="7" height="28"/><rect x="669.5" y="1020" width="7" height="23"/>
<rect x="686.5" y="1027" width="7" height="16"/><rect x="694.5" y="984" width="7" height="59"/><rect x="702.5" y="1005.4" width="7" height="37.6"/><rect x="710.5" y="1025" width="7" height="18"/></g>
<g stroke="#333" stroke-width=".4">
<g fill="#bbb"><circle cx="449" cy="1024" r="2.3"/><circle cx="449" cy="1030" r="2.3"/><circle cx="488" cy="1024" r="2.3"/><circle cx="488" cy="1030" r="2.3"/><circle cx="527" cy="1024" r="2.3"/><circle cx="567" cy="1025" r="2.3"/><circle cx="608" cy="1026" r="2.3"/><circle cx="649" cy="1027" r="2.3"/><circle cx="649" cy="1032" r="2.3"/><circle cx="690" cy="1026" r="2.3"/><circle cx="690" cy="1031" r="2.3"/></g>
<g fill="#e8a040"><circle cx="457" cy="1037" r="2.3"/><circle cx="496" cy="1036" r="2.3"/><circle cx="535" cy="1040" r="2.3"/><circle cx="575" cy="1037" r="2.3"/><circle cx="616" cy="1016" r="2.3"/><circle cx="657" cy="918" r="2.3"/><circle cx="657" cy="925" r="2.3"/><circle cx="656" cy="935" r="2.3"/><circle cx="659" cy="945" r="2.3"/><circle cx="656" cy="955" r="2.3"/><circle cx="657" cy="960" r="2.3"/><circle cx="698" cy="975" r="2.3"/><circle cx="698" cy="982" r="2.3"/><circle cx="697" cy="988" r="2.3"/></g>
<g fill="#4a8ed8"><circle cx="465" cy="1029" r="2.3"/><circle cx="504" cy="1033" r="2.3"/><circle cx="543" cy="1034" r="2.3"/><circle cx="583" cy="1034" r="2.3"/><circle cx="624" cy="1025" r="2.3"/><circle cx="665" cy="1013" r="2.3"/><circle cx="665" cy="1019" r="2.3"/><circle cx="706" cy="1002" r="2.3"/><circle cx="706" cy="1008" r="2.3"/></g>
<g fill="#d84040"><circle cx="473" cy="1027" r="2.3"/><circle cx="512" cy="1026" r="2.3"/><circle cx="551" cy="1033" r="2.3"/><circle cx="591" cy="1030" r="2.3"/><circle cx="632" cy="1028" r="2.3"/><circle cx="673" cy="1019" r="2.3"/><circle cx="673" cy="1024" r="2.3"/><circle cx="714" cy="1025" r="2.3"/></g></g>
<g fill="none" stroke="#000" stroke-width=".8">
<polyline points="449,1020 449,1012 457,1012 457,1033"/><polyline points="449,1008 449,998 465,998 465,1025"/><polyline points="461,985 461,980 469,980"/><polyline points="461,992 461,989 473,989 473,1022"/>
<polyline points="488,1020 488,1012 496,1012 496,1032"/><polyline points="488,1008 488,998 504,998 504,1030"/><polyline points="500,985 500,980 508,980"/><polyline points="500,992 500,989 512,989 512,1022"/>
<polyline points="527,1020 527,1010 535,1010 535,1037"/><polyline points="527,1006 527,996 543,996 543,1030"/><polyline points="539,983 539,978 547,978"/><polyline points="539,990 539,987 551,987 551,1029"/>
<polyline points="567,1020 567,1012 575,1012 575,1033"/><polyline points="567,1008 567,998 583,998 583,1030"/><polyline points="579,985 579,980 587,980"/><polyline points="579,992 579,989 591,989 591,1026"/>
<polyline points="608,1020 608,1008 616,1008 616,1012"/><polyline points="608,1004 608,996 624,996 624,1020"/><polyline points="620,980 620,975 628,975"/><polyline points="620,987 620,984 632,984 632,1024"/>
<polyline points="649,1020 649,917 657,917"/><polyline points="657,913 657,905 665,905 665,1008"/><polyline points="657,901 657,893 673,893 673,1015"/><polyline points="649,910 649,885 665,885"/>
<polyline points="690,1020 690,970 698,970"/><polyline points="698,966 698,958 706,958 706,998"/><polyline points="698,954 698,947 714,947 714,1020"/><polyline points="706,944 706,940 714,940"/></g>
<g class="s" text-anchor="middle" style="font-size:6px"><text x="453" y="1010">***</text><text x="457" y="996">**</text><text x="465" y="979">***</text><text x="467" y="988">***</text><text x="492" y="1010">***</text><text x="496" y="996">***</text><text x="504" y="979">***</text><text x="506" y="988">***</text><text x="531" y="1008">***</text><text x="535" y="994">***</text><text x="543" y="977">***</text><text x="545" y="986">***</text><text x="571" y="1010">***</text><text x="575" y="996">***</text><text x="583" y="979">***</text><text x="585" y="988">***</text><text x="612" y="1006">***</text><text x="616" y="994">*</text><text x="624" y="974">***</text><text x="626" y="983">***</text><text x="653" y="915">***</text><text x="661" y="903">***</text><text x="665" y="891">***</text><text x="657" y="883">*</text><text x="694" y="968">***</text><text x="702" y="956">***</text><text x="706" y="945">***</text><text x="710" y="938">***</text></g>
<g class="t" text-anchor="middle"><text x="463" y="1056">Myh11</text><text x="502" y="1056">Myl9</text><text x="541" y="1056">α-SMA</text><text x="581" y="1056">Cnn1</text><text x="622" y="1056">Col1a1</text><text x="663" y="1056">Col5a1</text><text x="704" y="1056">Cxcl2</text></g>
<rect x="450" y="903" width="164" height="33" fill="#fff" stroke="#000"/>
<g stroke="#333" stroke-width=".4"><circle cx="457" cy="912" r="2.5" fill="#bbb"/><circle cx="457" cy="926" r="2.5" fill="#e8a040"/><circle cx="508" cy="912" r="2.5" fill="#4a8ed8"/><circle cx="508" cy="926" r="2.5" fill="#d84040"/></g>
<g class="t"><text x="463" y="915">Control</text><text x="463" y="929">BAPN</text><text x="514" y="915">BAPN + T-5224 (2 wk)</text><text x="514" y="929">BAPN + T-5224 (3 wk)</text></g>
</svg>
</body></html>
